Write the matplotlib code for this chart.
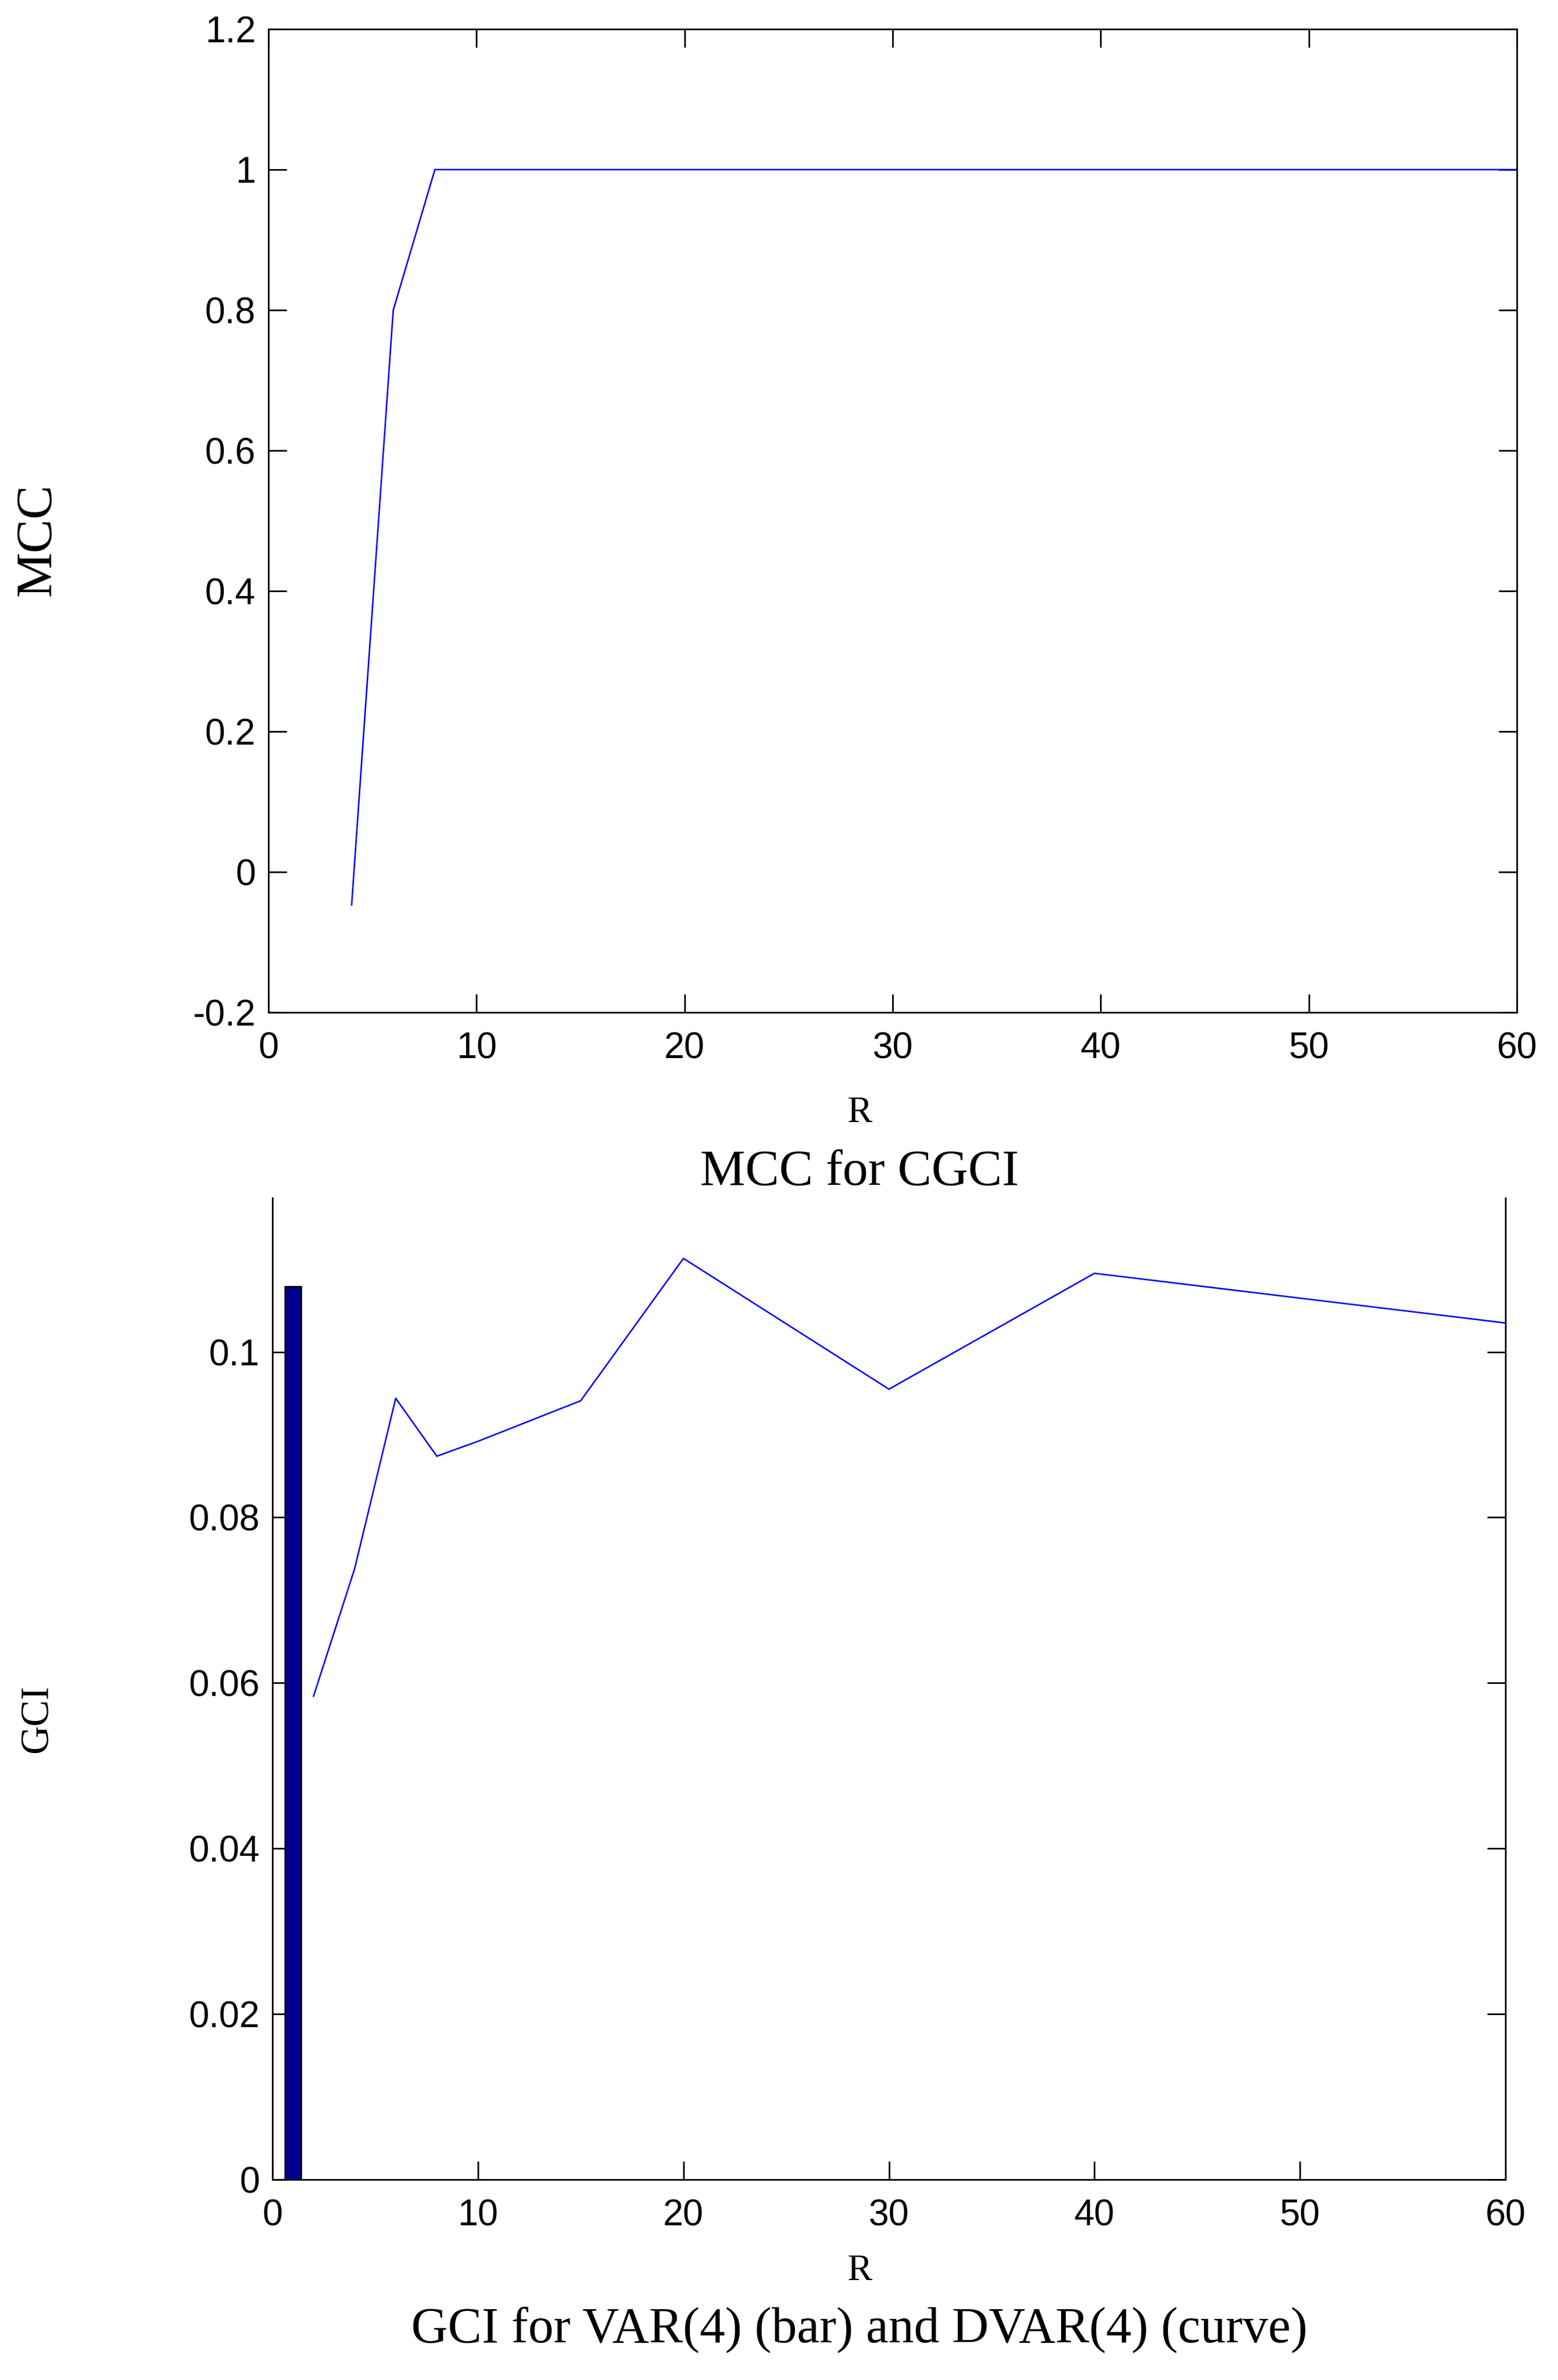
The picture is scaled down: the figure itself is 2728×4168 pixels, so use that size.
import numpy as np
import matplotlib
matplotlib.use('Agg')
import matplotlib.pyplot as plt
from matplotlib.ticker import FuncFormatter

# MCC for CGCI (top)
r_mcc = [4, 6, 8, 10, 15, 20, 30, 40, 60]
mcc = [-0.047, 0.8, 1.0, 1.0, 1.0, 1.0, 1.0, 1.0, 1.0]

# GCI for VAR(4) bar and DVAR(4) curve (bottom)
r_gci = [2, 4, 6, 8, 10, 15, 20, 30, 40, 60]
gci_dvar = [0.0584, 0.0738, 0.0944, 0.0874, 0.0892, 0.0941, 0.1113, 0.0955, 0.1095, 0.1035]
bar_x = [1]
gci_var = [0.1079]

W, H = 2728, 4168
DPI = 100
sans = 'Liberation Sans'
serif = 'Liberation Serif'
tick_fs = 46

fig = plt.figure(figsize=(W / DPI, H / DPI), dpi=DPI)
fmt = FuncFormatter(lambda v, p: '%g' % round(v, 6))


def px_axes(l, t, r, b):
    return fig.add_axes([l / W, 1 - b / H, (r - l) / W, (b - t) / H])


def style(ax, top_ticks=True):
    ax.tick_params(direction='in', length=23, width=2, labelsize=tick_fs,
                   right=True, top=top_ticks)
    ax.tick_params(axis='x', pad=24)
    ax.tick_params(axis='y', pad=16)
    for lab in ax.get_xticklabels() + ax.get_yticklabels():
        lab.set_fontfamily(sans)
    for s in ax.spines.values():
        s.set_linewidth(2)


# top panel
ax1 = px_axes(470, 51, 2656, 1773)
ax1.plot(r_mcc, mcc, color='#0000ff', lw=1.9)
ax1.set_xlim(0, 60)
ax1.set_ylim(-0.2, 1.2)
ax1.set_xticks(np.arange(0, 61, 10))
ax1.set_yticks(np.arange(-0.2, 1.21, 0.2))
ax1.yaxis.set_major_formatter(fmt)
style(ax1)

fig.text(1505 / W, 1 - 1965 / H, 'R', ha='center', va='baseline', fontsize=47, family=serif)
fig.text(1505 / W, 1 - 2075 / H, 'MCC for CGCI', ha='center', va='baseline', fontsize=64, family=serif)
fig.text(66 / W, 1 - 945 / H, 'MCC', ha='center', va='center', rotation=90, fontsize=64, family=serif)

# bottom panel
ax2 = px_axes(477, 2098, 2636, 3817)
ax2.bar(bar_x, gci_var, width=0.8, color=(0, 0, 0.5625), edgecolor='black', linewidth=2, zorder=2)
ax2.plot(r_gci, gci_dvar, color='#0000ff', lw=1.9, zorder=3)
ax2.set_xlim(0, 60)
ax2.set_ylim(0, 0.1186)
ax2.set_xticks(np.arange(0, 61, 10))
ax2.set_yticks(np.arange(0, 0.101, 0.02))
ax2.yaxis.set_major_formatter(fmt)
ax2.spines['top'].set_visible(False)
style(ax2, top_ticks=False)

fig.text(1505 / W, 1 - 3993 / H, 'R', ha='center', va='baseline', fontsize=47, family=serif)
fig.text(1505 / W, 1 - 4102 / H, 'GCI for VAR(4) (bar) and DVAR(4) (curve)', ha='center',
         va='baseline', fontsize=64, family=serif)
fig.text(66 / W, 1 - 3010 / H, 'GCI', ha='center', va='center', rotation=90, fontsize=50, family=serif)

fig.savefig('out.png', dpi=DPI)
